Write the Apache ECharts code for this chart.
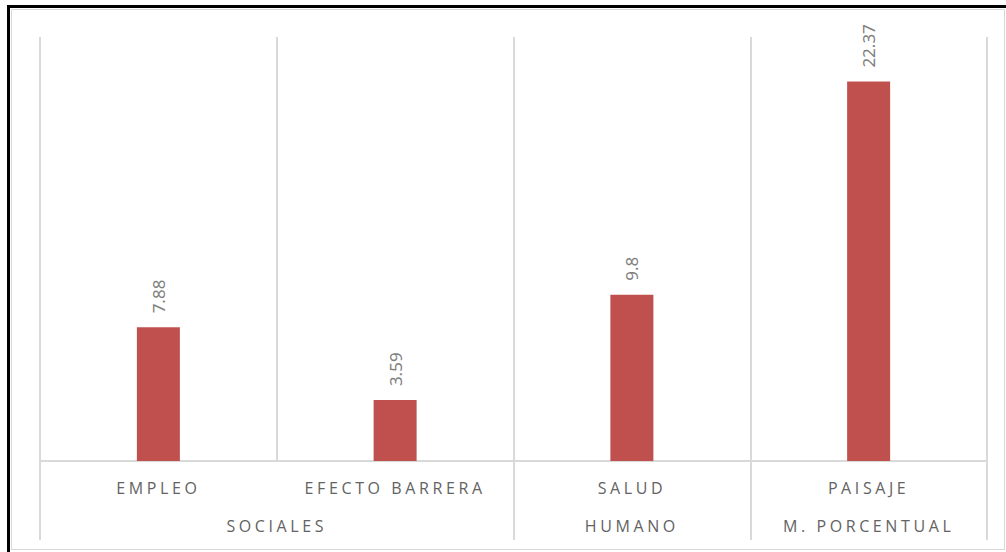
<!DOCTYPE html>
<html>
<head>
<meta charset="utf-8">
<script src="https://cdn.jsdelivr.net/npm/echarts@6/dist/echarts.min.js"></script>
<style>
  html, body { margin: 0; padding: 0; background: #fff; }
  #chart { position: absolute; left: 0; top: 0; width: 1006px; height: 552px; }
  #frame { position: absolute; left: 7px; top: 5px; width: 1010px; height: 560px;
           border-top: 3px solid #000; border-left: 3px solid #000; pointer-events: none; }
  #inner { position: absolute; left: 11px; top: 9px; width: 992px; height: 539px;
           border: 1px solid #d9d9d9; pointer-events: none; }
  #chart text[style*="Open Sans"] { letter-spacing: 3.6px; }
</style>
</head>
<body>
<div id="inner"></div>
<div id="chart"></div>
<div id="frame"></div>
<script>
const categories = ['EMPLEO', 'EFECTO BARRERA', 'SALUD', 'PAISAJE'];
const values = [7.88, 3.59, 9.8, 22.37];
const groupNames = ['SOCIALES', 'HUMANO', 'M. PORCENTUAL'];
const groupCenters = [1, 2.5, 3.5];   // in category units (0..4)
const groupBounds = [0, 2, 3, 4];

const chart = echarts.init(document.getElementById('chart'), null, { renderer: 'svg' });
chart.setOption({
  animation: false,
  grid: { left: 40, right: 19, top: 37, bottom: 91 },
  xAxis: [
    {
      type: 'category',
      data: categories,
      position: 'bottom',
      axisLine: { show: true, lineStyle: { color: '#d9d9d9', width: 2 } },
      axisTick: { show: false },
      splitLine: { show: true, lineStyle: { color: '#d9d9d9', width: 2 } },
      axisLabel: { color: '#636363', fontSize: 16, fontFamily: 'Open Sans', margin: 19, interval: 0 }
    },
    {
      type: 'value',
      min: 0, max: 4,
      position: 'bottom',
      axisLine: { show: false },
      splitLine: { show: false },
      axisTick: { show: true, customValues: groupBounds, length: 79, lineStyle: { color: '#d9d9d9', width: 2 } },
      axisLabel: {
        customValues: groupCenters,
        color: '#636363', fontSize: 16, fontFamily: 'Open Sans', margin: 57,
        formatter: function (v) {
          const i = groupCenters.indexOf(v);
          return i >= 0 ? groupNames[i] : '';
        }
      }
    }
  ],
  yAxis: {
    type: 'value', min: 0, max: 25, show: false,
    splitLine: { show: false }
  },
  series: [{
    type: 'bar',
    xAxisIndex: 0,
    data: values,
    barWidth: 43,
    itemStyle: { color: '#c0504d' },
    label: {
      show: true, position: 'top', rotate: 90, align: 'left', verticalAlign: 'middle',
      distance: 14, color: '#808080', fontSize: 17, fontFamily: 'Noto Sans'
    }
  }]
});
</script>
</body>
</html>
